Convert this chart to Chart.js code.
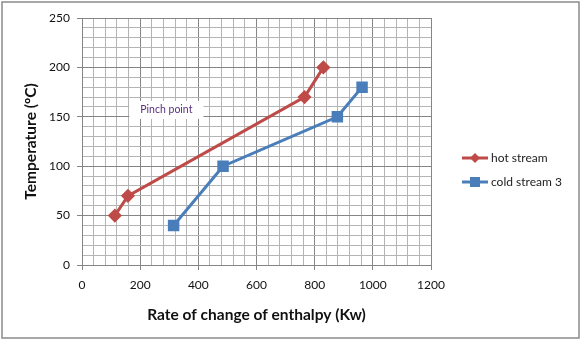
<!DOCTYPE html>
<html><head><meta charset="utf-8">
<script src="https://cdn.jsdelivr.net/npm/chart.js@4"></script>
<style>html,body{margin:0;padding:0;background:#fff;}#wrap{width:585px;height:345px;position:relative;}</style>
</head><body><div id="wrap"><canvas id="c" width="585" height="345"></canvas></div>
<script>
const hotX = [113, 158, 765, 830];
const hotY = [50, 70, 170, 200];
const coldX = [315, 485, 878, 963];
const coldY = [40, 100, 150, 180];
const seriesNames = ['hot stream', 'cold stream 3'];
const xTitle = 'Rate of change of enthalpy (Kw)';
const yTitle = 'Temperature (\u00BAC)';
const noteText = 'Pinch point';
const noteAt = [290, 157];

const RED = '#BE4B48', BLUE = '#4A7EBB';
const FONT = 'Lato, "Liberation Sans", sans-serif';

const frame = {
  id: 'frame',
  beforeDraw(ch) {
    const c = ch.ctx; c.save();
    c.fillStyle = '#fff'; c.fillRect(0, 0, ch.width, ch.height);
    c.strokeStyle = '#8a8a8a'; c.lineWidth = 1.5;
    c.strokeRect(2, 2, 577, 336);
    c.restore();
  },
  afterDatasetsDraw(ch) {
    const c = ch.ctx; c.save();
    // annotation
    const px = ch.scales.x.getPixelForValue(noteAt[0]);
    const py = ch.scales.y.getPixelForValue(noteAt[1]);
    c.font = '10.5px ' + FONT;
    const w = c.measureText(noteText).width + 22;
    c.fillStyle = '#fff';
    c.fillRect(px - w / 2, py - 9, w, 18);
    c.fillStyle = '#5B2C82'; c.textAlign = 'center'; c.textBaseline = 'middle';
    c.fillText(noteText, px, py);
    // legend
    const items = [[seriesNames[0], RED, 'd'], [seriesNames[1], BLUE, 's']];
    items.forEach((it, i) => {
      const y = 158 + i * 24;
      c.strokeStyle = it[1]; c.lineWidth = 3;
      c.beginPath(); c.moveTo(462, y); c.lineTo(488, y); c.stroke();
      c.fillStyle = it[1];
      if (it[2] === 'd') {
        c.beginPath(); c.moveTo(475, y - 5); c.lineTo(480, y); c.lineTo(475, y + 5); c.lineTo(470, y); c.closePath(); c.fill();
      } else {
        c.fillRect(470, y - 5, 10, 10);
      }
      c.fillStyle = '#222'; c.font = '12px ' + FONT; c.textAlign = 'left'; c.textBaseline = 'middle';
      c.fillText(it[0], 491, y);
    });
    c.restore();
  }
};

const xMajor = v => v % 200 === 0;
const yMajor = v => v % 50 === 0;

new Chart(document.getElementById('c'), {
  type: 'line',
  data: {
    datasets: [
      { label: seriesNames[0], data: hotX.map((x, i) => ({ x, y: hotY[i] })), borderColor: RED, backgroundColor: RED,
        borderWidth: 3, pointStyle: 'rectRot', pointRadius: 5, pointHoverRadius: 5, tension: 0 },
      { label: seriesNames[1], data: coldX.map((x, i) => ({ x, y: coldY[i] })), borderColor: BLUE, backgroundColor: BLUE,
        borderWidth: 3, pointStyle: 'rect', pointRadius: 6, pointHoverRadius: 6, tension: 0 }
    ]
  },
  options: {
    responsive: false, animation: false, devicePixelRatio: 1,
    layout: { padding: { top: 18, right: 154, left: 22, bottom: 21 } },
    plugins: { legend: { display: false }, tooltip: { enabled: false } },
    scales: {
      x: {
        type: 'linear', min: 0, max: 1200,
        afterFit(s) { s.height = 59; },
        ticks: { stepSize: 40, autoSkip: false, maxRotation: 0, padding: 8, color: '#111',
          font: { family: FONT, size: 12 },
          callback: v => xMajor(v) ? String(v) : '' },
        grid: { color: c => xMajor(c.tick.value) ? '#858585' : '#b4b4b4', lineWidth: 1,
          tickLength: 5, tickColor: c => xMajor(c.tick.value) ? '#858585' : 'rgba(0,0,0,0)' },
        border: { color: '#858585' },
        title: { display: true, text: xTitle, color: '#111', font: { family: FONT, size: 15.5, weight: 'bold' }, padding: { top: 4, bottom: 0 } }
      },
      y: {
        type: 'linear', min: 0, max: 250,
        afterFit(s) { s.width = 60; },
        ticks: { stepSize: 10, autoSkip: false, padding: 7, color: '#111',
          font: { family: FONT, size: 12 },
          callback: v => yMajor(v) ? String(v) : '' },
        grid: { color: c => yMajor(c.tick.value) ? '#858585' : '#b4b4b4', lineWidth: 1,
          tickLength: 5, tickColor: c => yMajor(c.tick.value) ? '#858585' : 'rgba(0,0,0,0)' },
        border: { color: '#858585' },
        title: { display: true, text: yTitle, color: '#111', font: { family: FONT, size: 15.5, weight: 'bold' }, padding: { top: 0, bottom: 4 } }
      }
    }
  },
  plugins: [frame]
});
</script></body></html>
